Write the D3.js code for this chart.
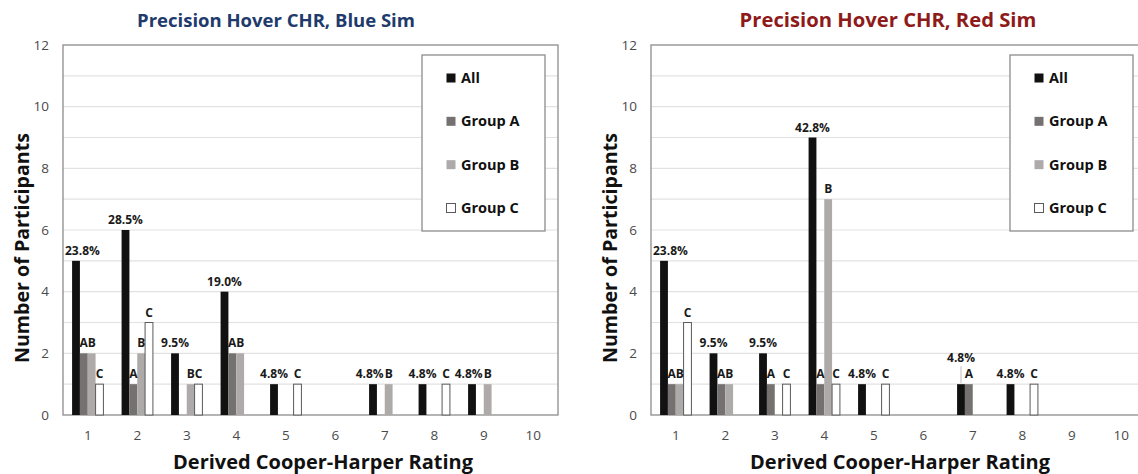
<!DOCTYPE html>
<html>
<head>
<meta charset="utf-8">
<script src="https://cdn.jsdelivr.net/npm/d3@7"></script>
<style>
  body { margin: 0; background: #fff; }
  svg { display: block; }
  text { font-family: "Open Sans", sans-serif; }
</style>
</head>
<body>
<svg id="chart" width="1138" height="474"></svg>
<script>
// Cooper-Harper rating categories and series
const categories = ["1", "2", "3", "4", "5", "6", "7", "8", "9", "10"];
const seriesNames = ["All", "Group A", "Group B", "Group C"];
const yTicks = [0, 2, 4, 6, 8, 10, 12];

// Blue simulator counts
const blueAll = [5, 6, 2, 4, 1, 0, 1, 1, 1, 0];
const blueA   = [2, 1, 0, 2, 0, 0, 0, 0, 0, 0];
const blueB   = [2, 2, 1, 2, 0, 0, 1, 0, 1, 0];
const blueC   = [1, 3, 1, 0, 1, 0, 0, 1, 0, 0];
const bluePct = ["23.8%", "28.5%", "9.5%", "19.0%", "4.8%", "", "4.8%", "4.8%", "4.8%", ""];
const blueTags = [["AB", "C"], ["A", "B", "C"], ["BC"], ["AB"], ["C"], [], ["B"], ["C"], ["B"], []];

// Red simulator counts
const redAll = [5, 2, 2, 9, 1, 0, 1, 1, 0, 0];
const redA   = [1, 1, 1, 1, 0, 0, 1, 0, 0, 0];
const redB   = [1, 1, 0, 7, 0, 0, 0, 0, 0, 0];
const redC   = [3, 0, 1, 1, 1, 0, 0, 1, 0, 0];
const redPct = ["23.8%", "9.5%", "9.5%", "42.8%", "4.8%", "", "4.8%", "4.8%", "", ""];
const redTags = [["AB", "C"], ["AB"], ["A", "C"], ["A", "B", "C"], ["C"], [], ["A"], ["C"], [], []];

const panels = [
  { title: "Precision Hover CHR, Blue Sim", titleColor: "#203a6b", offset: 0,
    titleX: 276, titleW: 278, xTitleX: 323,
    series: [blueAll, blueA, blueB, blueC], pct: bluePct, tags: blueTags },
  { title: "Precision Hover CHR, Red Sim", titleColor: "#8e1a1a", offset: 588,
    titleX: 300, titleW: 297, xTitleX: 312,
    series: [redAll, redA, redB, redC], pct: redPct, tags: redTags }
];

const fills = { "All": "#111111", "Group A": "#767171", "Group B": "#aeaaaa", "Group C": "#ffffff" };
const strokes = { "All": "none", "Group A": "none", "Group B": "none", "Group C": "#5a5a5a" };
const letterSeries = { A: "Group A", B: "Group B", C: "Group C" };

const plot = { left: 63, top: 45, width: 495, height: 370 };

const svg = d3.select("#chart");

// Scale a text's font size so that it spans the given width
function fitWidth(sel, target) {
  const node = sel.node();
  const size = parseFloat(sel.attr("font-size"));
  const len = node.getComputedTextLength();
  sel.attr("font-size", (size * target / len).toFixed(2));
}

panels.forEach(p => {
  const g = svg.append("g").attr("transform", `translate(${p.offset},0)`);

  const x = d3.scaleBand().domain(categories).range([0, plot.width]).padding(0);
  const x1 = d3.scaleBand().domain(seriesNames).range([0, x.bandwidth()])
    .paddingInner(0).paddingOuter(1.16);
  const y = d3.scaleLinear().domain([0, 12]).range([plot.height, 0]);

  const pg = g.append("g").attr("transform", `translate(${plot.left},${plot.top})`);

  // light gridlines every unit
  pg.append("g").selectAll("line")
    .data(d3.range(1, 12))
    .join("line")
    .attr("x1", 0).attr("x2", plot.width)
    .attr("y1", d => y(d)).attr("y2", d => y(d))
    .attr("stroke", "#e2e2e2").attr("stroke-width", 1.2);

  // plot frame
  pg.append("rect")
    .attr("x", 0).attr("y", 0).attr("width", plot.width).attr("height", plot.height)
    .attr("fill", "none").attr("stroke", "#8c8c8c").attr("stroke-width", 1.3);

  // axes
  const yAxis = pg.append("g").call(d3.axisLeft(y).tickValues(yTicks).tickSize(0).tickPadding(14));
  yAxis.select(".domain").remove();
  yAxis.selectAll("text").attr("font-size", 13.5).attr("fill", "#4a4a4a")
    .style("font-family", "'Open Sans', sans-serif");

  const xAxis = pg.append("g").attr("transform", `translate(0,${plot.height})`)
    .call(d3.axisBottom(x).tickSize(0).tickPadding(15));
  xAxis.select(".domain").remove();
  xAxis.selectAll("text").attr("font-size", 13.5).attr("fill", "#4a4a4a")
    .style("font-family", "'Open Sans', sans-serif");

  // bars
  const rows = [];
  categories.forEach((c, i) => {
    seriesNames.forEach((s, j) => {
      const v = p.series[j][i];
      if (v > 0) rows.push({ cat: c, series: s, value: v });
    });
  });
  pg.append("g").selectAll("rect")
    .data(rows)
    .join("rect")
    .attr("x", d => x(d.cat) + x1(d.series))
    .attr("width", x1.bandwidth())
    .attr("y", d => y(d.value))
    .attr("height", d => plot.height - y(d.value))
    .attr("fill", d => fills[d.series])
    .attr("stroke", d => strokes[d.series])
    .attr("stroke-width", d => d.series === "Group C" ? 1 : 0);

  // data labels
  const lg = pg.append("g").attr("font-weight", 700).attr("fill", "#1a1a1a")
    .attr("text-anchor", "middle");

  categories.forEach((c, i) => {
    // group tags over the bars they refer to
    const tagBoxes = [];
    p.tags[i].forEach(tag => {
      const names = tag.split("").map(ch => letterSeries[ch]);
      const x0 = d3.min(names, n => x(c) + x1(n));
      const xEnd = d3.max(names, n => x(c) + x1(n) + x1.bandwidth());
      const top = d3.max(names, n => p.series[seriesNames.indexOf(n)][i]);
      const cx = (x0 + xEnd) / 2;
      const t = lg.append("text").attr("x", cx).attr("y", y(top) - 6)
        .attr("font-size", 12).text(tag);
      const w = t.node().getComputedTextLength();
      tagBoxes.push({ x0: cx - w / 2, x1: cx + w / 2, y: y(top) - 6 });
    });

    // percentage over the "All" bar
    if (p.pct[i]) {
      const barX = x(c) + x1("All") + x1.bandwidth() / 2;
      let ly = y(p.series[0][i]) - 6;
      const t = lg.append("text").attr("font-size", 12).text(p.pct[i]);
      const w = t.node().getComputedTextLength();
      let cx = Math.max(barX, 2 + w / 2);
      const sameRow = tagBoxes.filter(b => Math.abs(b.y - ly) < 10 &&
        b.x0 < cx + w / 2 && b.x1 > cx - w / 2);
      const heavy = sameRow.some(b => b.x0 < cx + w / 2 - 5);
      if (heavy) {
        // lift the label and connect it with a leader line
        const lifted = ly - 16;
        lg.append("line")
          .attr("x1", barX).attr("x2", barX)
          .attr("y1", lifted + 4).attr("y2", y(p.series[0][i]) - 1)
          .attr("stroke", "#bdbdbd").attr("stroke-width", 1);
        ly = lifted;
      } else if (sameRow.length) {
        // nudge left so it sits just before the neighbouring tag
        cx = d3.min(sameRow, b => b.x0) - 1 - w / 2;
      }
      t.attr("x", cx).attr("y", ly);
    }
  });

  // legend
  const leg = g.append("g").attr("transform", "translate(422,55)");
  leg.append("rect").attr("width", 123).attr("height", 176)
    .attr("fill", "#fff").attr("stroke", "#8c8c8c").attr("stroke-width", 1.3);
  const itemY = d3.scalePoint().domain(seriesNames).range([23, 153]);
  seriesNames.forEach(s => {
    leg.append("rect")
      .attr("x", 24.5).attr("y", itemY(s) - 4.5).attr("width", 9).attr("height", 9)
      .attr("fill", fills[s])
      .attr("stroke", s === "Group C" ? "#5a5a5a" : "none").attr("stroke-width", 1);
    leg.append("text").attr("x", 39).attr("y", itemY(s)).attr("dy", "0.35em")
      .attr("font-size", 14.5).attr("font-weight", 700).attr("fill", "#111")
      .text(s);
  });

  // chart title
  const tt = g.append("text").attr("x", p.titleX).attr("y", 27)
    .attr("text-anchor", "middle").attr("font-size", 18).attr("font-weight", 700)
    .attr("fill", p.titleColor).text(p.title);
  fitWidth(tt, p.titleW);

  // axis titles
  const xt = g.append("text").attr("x", p.xTitleX).attr("y", 469)
    .attr("text-anchor", "middle").attr("font-size", 19).attr("font-weight", 700)
    .attr("fill", "#111").text("Derived Cooper-Harper Rating");
  fitWidth(xt, 300);

  const yt = g.append("text").attr("transform", "translate(29,248) rotate(-90)")
    .attr("text-anchor", "middle").attr("font-size", 19).attr("font-weight", 700)
    .attr("fill", "#111").text("Number of Participants");
  fitWidth(yt, 230);
});
</script>
</body>
</html>
